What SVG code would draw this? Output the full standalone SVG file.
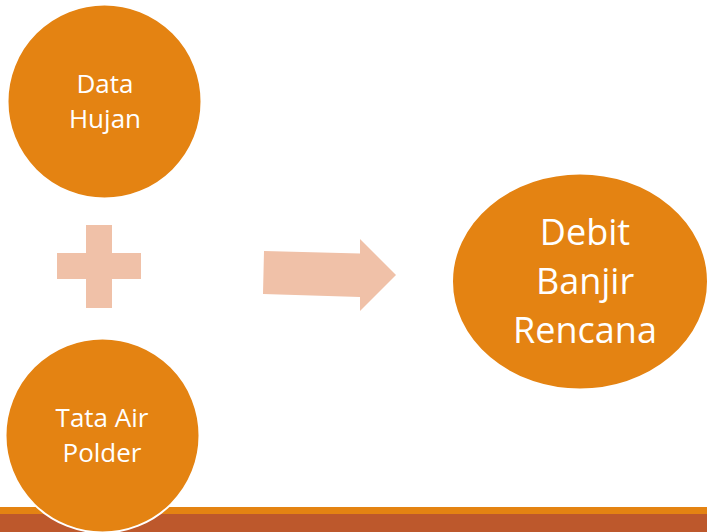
<svg xmlns="http://www.w3.org/2000/svg" width="707" height="532" viewBox="0 0 707 532">
<style>
.node{fill:#E48312;stroke:#FFFFFF;stroke-width:2}
.lbl{fill:#FFFFFF;font-family:"Open Sans","Noto Sans",sans-serif;text-anchor:middle}
.s{font-size:26px}
.l{font-size:36px}
.conn{fill:#F0C1A8}
</style>
<rect width="707" height="532" fill="#FFFFFF"/>
<rect x="0" y="507" width="707" height="7" fill="#E48312"/>
<rect x="0" y="514" width="707" height="18" fill="#BD582C"/>
<g id="data-hujan">
<circle class="node" cx="104.5" cy="101.5" r="97"/>
<text class="lbl s" x="105" y="93">Data</text>
<text class="lbl s" x="105" y="128">Hujan</text>
</g>
<g id="tata-air-polder">
<circle class="node" cx="102.5" cy="435.5" r="97"/>
<text class="lbl s" x="102" y="427">Tata Air</text>
<text class="lbl s" x="102" y="462">Polder</text>
</g>
<g id="connectors">
<path class="conn" d="M86 225H112V253H141V279H112V308H86V279H57V253H86Z"/>
<path class="conn" d="M264 251L360 253.5L360 239L396 275L360 311L360 297L263 294Z"/>
</g>
<g id="debit-banjir-rencana">
<ellipse class="node" cx="580" cy="281.5" rx="128" ry="108"/>
<text class="lbl l" x="585" y="245">Debit</text>
<text class="lbl l" x="585" y="294">Banjir</text>
<text class="lbl l" x="585" y="343">Rencana</text>
</g>
</svg>
